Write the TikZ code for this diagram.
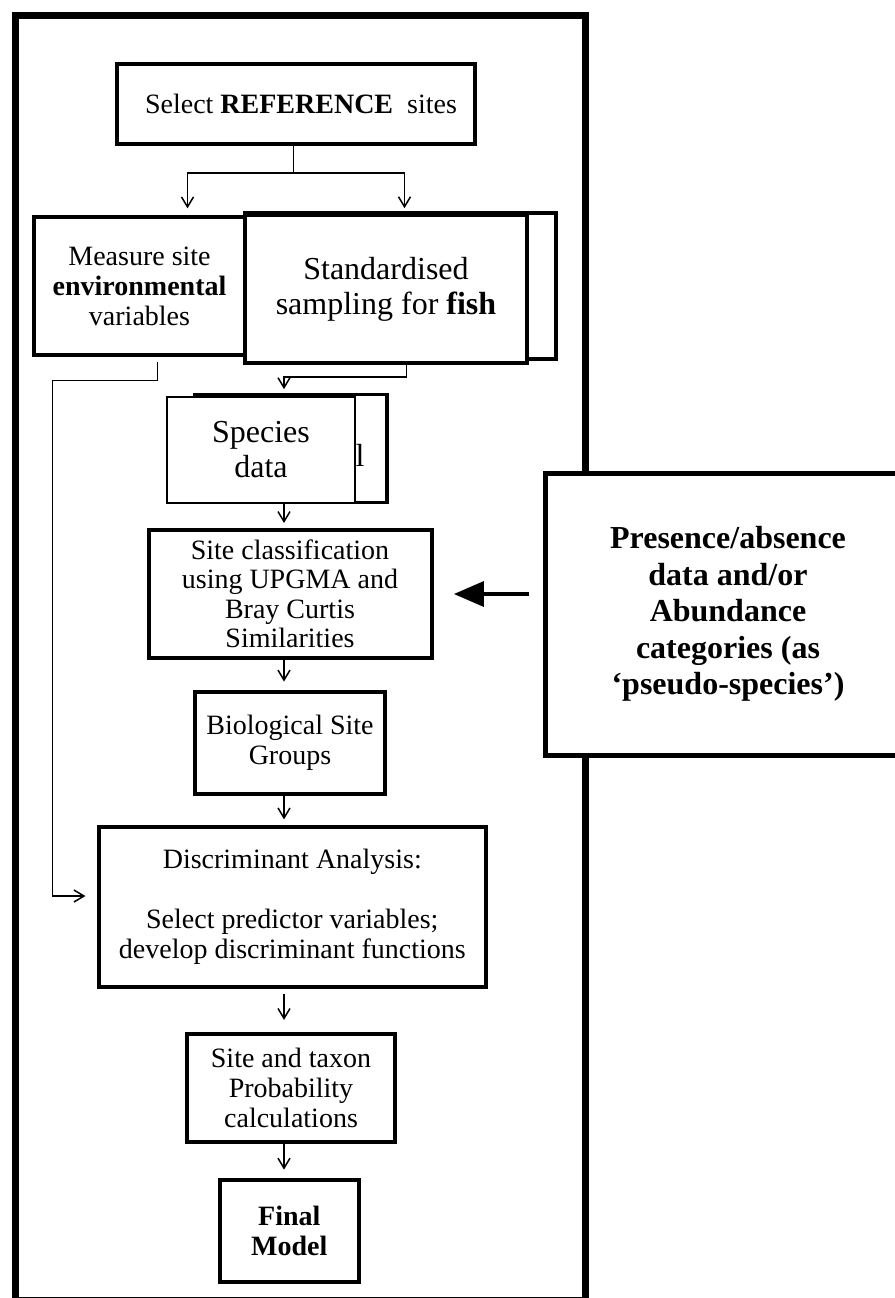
\documentclass[tikz,border=0pt]{standalone}
\usepackage{fontspec}
\setmainfont{Liberation Serif}
\usetikzlibrary{arrows.meta}

\tikzset{
  box/.style={draw, line width=2pt, fill=white, inner sep=0pt, align=center, font=\fontsize{14}{15}\selectfont},
  bigbox/.style={box, font=\fontsize{16}{17.5}\selectfont},
  conn/.style={line width=0.75pt},
  arr/.style={conn, -{Straight Barb[length=5pt,width=6pt]}},
  bigarr/.style={line width=1.7pt, -{Triangle[length=15pt,width=12.5pt]}},
}

\begin{document}
\begin{tikzpicture}[x=0.5pt, y=-0.5pt]
\clip (0,0) rectangle (895,1298);
		%Rahmen
		\draw[line width=3.5pt] (15,15) rectangle (585.5,1300.5);
		
		%Kasten rechts
		\node[box, line width=2.5pt, minimum width=183pt, minimum height=141pt, font=\bfseries\fontsize{16}{18.3}\selectfont] (pres) at (728,614) {Presence/absence\\data and/or\\Abundance\\categories (as\\‘pseudo-species’)};
		
		%Kaesten oben
		\node[box, minimum width=179pt, minimum height=40pt] (sel) at (296,104) {\hspace*{5pt}Select \textbf{REFERENCE}\ \ sites};
		\node[box, minimum width=105.5pt, minimum height=69pt] (meas) at (139.5,286) {Measure site\\\textbf{environmental}\\variables};
		\node[bigbox, minimum width=155.5pt, minimum height=73pt] (stdbk) at (400.5,286) {};
		\node[bigbox, minimum width=141pt, minimum height=74pt] (std) at (386,289) {Standardised\\sampling for \textbf{fish}};
		\node[bigbox, line width=1.8pt, minimum width=96pt, minimum height=54pt] (sppbk) at (291,448.5) {};
		\node[bigbox, line width=1pt, minimum width=94pt, minimum height=53pt] (spp) at (261,449.7) {Species\\data};
		\node[font=\fontsize{16}{17.5}\selectfont, inner sep=0pt] (sppl) at (360,455) {l};
		
		%Kaesten unten
		\node[box, font=\fontsize{14}{14.75}\selectfont, minimum width=141.5pt, minimum height=64pt] (cls) at (290,594) {Site classification\\using UPGMA and\\Bray Curtis\\Similarities};
		\node[box, minimum width=95pt, minimum height=51pt] (bio) at (290,742.5) {Biological Site\\Groups};
		\node[box, minimum width=193.5pt, minimum height=80pt] (disc) at (292.3,907) {Discriminant Analysis:\\[15pt]Select predictor variables;\\develop discriminant functions};
		\node[box, minimum width=104pt, minimum height=54pt] (prob) at (291,1087.5) {Site and taxon\\Probability\\calculations};
		\node[box, minimum width=69.3pt, minimum height=51pt] (final) at (289.3,1231) {\textbf{Final}\\\textbf{Model}};
		
		%Pfeile
		\coordinate (fork) at (293.5,173);
		\coordinate (axis) at (284,0);
		\coordinate (envbend) at (52.4,896);
		\draw[conn] (sel.south -| fork) -- (fork);
		\draw[arr, shorten >=3.3pt] (fork) -| ([xshift=24pt]meas.north);
		\draw[arr, shorten >=1.4pt] (fork) -| ([xshift=2pt]stdbk.north);
		\draw[arr, shorten <=2.5pt, shorten >=5.7pt] ([xshift=9.1pt]meas.south) -- ++(0,23.3) -| (envbend) -- (disc.west |- envbend);
		\draw[arr, shorten >=3.3pt] ([xshift=10.2pt]std.south) -- ++(0,12) -| (spp.north -| axis);
		\draw[arr, shorten >=2.5pt] (spp.south -| axis) -- (cls.north -| axis);
		\draw[arr, shorten >=4pt] (cls.south -| axis) -- (bio.north -| axis);
		\draw[arr, shorten >=2.8pt] (bio.south -| axis) -- (disc.north -| axis);
		\draw[arr, shorten <=2.5pt, shorten >=5.8pt] (disc.south -| axis) -- (prob.north -| axis);
		\draw[arr, shorten >=4.2pt] (prob.south -| axis) -- (final.north -| axis);
		\draw[bigarr, shorten <=7pt, shorten >=10.2pt] (cls.east -| pres.west) -- (cls.east);
		
\end{tikzpicture}
\end{document}
